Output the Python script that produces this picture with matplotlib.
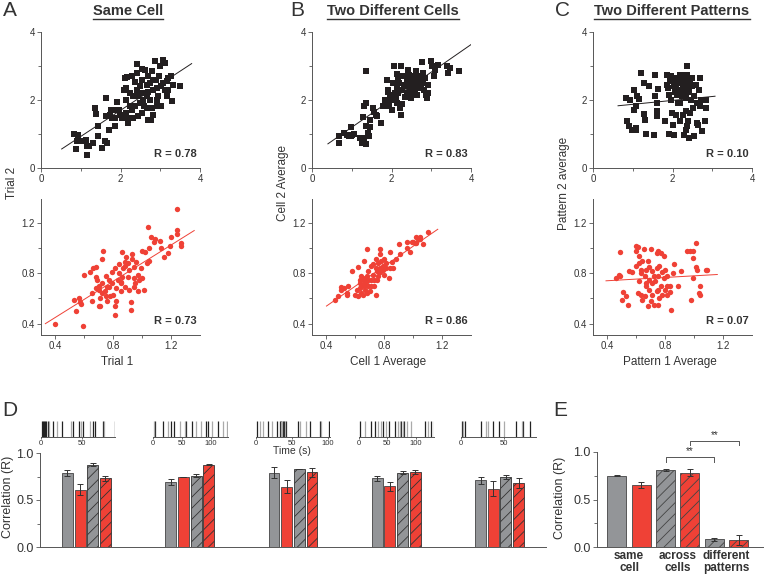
import numpy as np
import matplotlib
matplotlib.use('Agg')
import matplotlib.pyplot as plt
from matplotlib.lines import Line2D
from matplotlib.transforms import blended_transform_factory

plt.rcParams['font.family'] = ['Liberation Sans', 'DejaVu Sans']
plt.rcParams['hatch.linewidth'] = 0.6

# ---------------- data ----------------
# A: same cell
A_top_x = [0.83,0.92,0.90,1.00,0.88,1.13,1.16,1.20,1.16,1.32,
           1.44,1.36,1.38,1.43,1.53,1.61,1.65,1.64,1.64,1.72,
           1.74,1.75,1.78,1.86,1.86,1.92,1.95,2.03,2.11,2.17,
           2.14,2.09,2.20,2.15,2.24,2.28,2.32,2.20,2.36,2.41,
           2.42,2.45,2.49,2.53,2.55,2.57,2.59,2.62,2.66,2.70,
           2.70,2.74,2.78,2.78,2.81,2.76,2.87,2.89,2.91,2.95,
           2.99,3.02,3.06,3.08,3.12,3.12,3.16,3.20,3.26,3.29,
           3.31,3.50,3.16,2.83,2.66,2.49,2.32,2.28,2.41,2.57,
           2.74,2.91,2.97,2.83,3.03,3.20,2.36,2.15,2.24,2.53,
           2.45,2.66,2.70,2.91,1.90,1.99]
A_top_y = [1.00,0.98,0.78,0.78,0.57,0.83,0.66,0.64,0.39,0.75,
           0.93,1.76,1.59,1.23,0.59,0.80,0.74,2.06,1.52,1.13,
           1.57,1.72,1.47,1.23,1.47,1.93,1.72,1.47,2.64,2.68,
           2.35,2.28,1.47,1.62,1.81,1.72,1.47,1.32,2.52,2.30,
           3.07,2.11,1.91,2.91,2.60,2.20,1.81,2.89,2.45,2.70,
           2.25,2.00,2.84,1.76,1.57,1.42,3.14,2.60,2.35,2.11,
           2.99,1.81,3.17,2.50,3.09,2.30,2.11,2.65,2.72,1.96,
           2.45,2.42,2.55,2.30,2.11,2.40,2.11,2.70,2.79,2.00,
           2.50,2.00,2.70,2.60,2.40,2.30,1.81,2.01,2.20,1.62,
           1.52,1.76,1.42,1.81,1.72,1.57]
A_bot_x = [0.40,0.59,0.54,0.53,0.56,0.57,0.58,0.60,0.65,0.65,
           0.64,0.66,0.68,0.68,0.69,0.70,0.70,0.70,0.71,0.72,
           0.73,0.72,0.74,0.75,0.75,0.76,0.77,0.77,0.79,0.80,
           0.81,0.81,0.81,0.82,0.83,0.84,0.84,0.85,0.85,0.86,
           0.86,0.87,0.88,0.88,0.89,0.90,0.90,0.91,0.91,0.92,
           0.92,0.93,0.93,0.94,0.94,0.95,0.96,0.97,0.97,0.98,
           0.99,1.00,1.00,1.01,1.02,1.03,1.04,1.05,1.05,1.06,
           1.08,1.09,1.12,1.13,1.15,1.18,1.19,1.20,1.24,1.24,
           1.24,1.27,1.27,0.82,0.76,0.72,0.78,0.88,0.85,0.94,
           0.68,0.71,0.79]
A_bot_y = [0.40,0.38,0.50,0.59,0.60,0.57,0.56,0.79,0.64,0.58,
           0.81,0.84,0.85,0.77,0.75,0.70,0.67,0.54,0.54,0.91,
           0.98,0.72,0.66,0.78,0.62,0.58,0.69,0.75,0.81,0.63,
           0.84,0.54,0.47,0.68,0.75,0.80,0.87,0.66,0.72,0.97,
           0.77,0.84,0.89,0.86,0.93,0.88,0.77,0.83,0.67,0.57,
           0.51,0.91,0.95,0.85,0.76,0.72,0.89,0.79,0.66,0.75,
           0.84,0.76,0.98,0.67,0.97,0.88,1.17,1.00,0.90,1.09,
           1.05,1.07,1.06,1.00,0.93,0.96,1.02,1.09,1.14,1.11,
           1.31,1.04,1.02,0.58,0.69,0.64,0.62,0.69,0.73,0.69,
           0.68,0.60,0.72]

# B: two different cells
B_top_x = [0.69,0.69,0.80,0.88,0.93,0.99,1.01,1.05,0.97,1.22,
           1.26,1.30,1.35,1.35,1.35,1.29,1.30,1.37,1.41,1.43,
           1.47,1.46,1.54,1.57,1.60,1.64,1.73,1.79,1.83,1.85,
           1.88,1.90,1.91,1.94,1.96,1.98,2.02,2.04,2.06,2.08,
           2.11,2.13,2.15,2.16,2.19,2.21,2.23,2.25,2.27,2.27,
           2.29,2.33,2.36,2.38,2.40,2.42,2.44,2.47,2.48,2.51,
           2.53,2.55,2.57,2.58,2.61,2.64,2.65,2.68,2.69,2.72,
           2.74,2.76,2.78,2.80,2.82,2.84,2.86,2.89,2.91,2.92,
           2.99,3.03,3.06,3.09,3.16,3.39,3.41,3.48,3.71,2.50,
           2.31,2.16,2.02,2.13]
B_top_y = [0.75,0.93,1.03,0.98,0.93,1.20,0.98,1.01,0.93,0.88,
           0.74,0.88,0.72,1.23,2.84,1.50,1.81,1.91,1.03,0.93,
           1.20,1.42,1.76,1.64,1.57,1.52,1.32,1.83,2.00,1.83,
           2.60,2.23,2.30,1.81,2.10,2.00,1.72,2.50,2.99,2.20,
           2.05,2.35,2.77,2.60,2.50,1.76,1.57,2.99,1.89,2.30,
           2.70,2.10,2.40,2.20,2.55,2.89,2.75,2.35,2.50,2.20,
           2.60,2.45,2.70,2.30,2.84,2.55,2.16,2.40,2.72,2.60,
           2.35,3.11,2.50,2.79,2.30,2.65,2.16,2.06,2.45,2.20,
           3.14,2.99,2.70,2.89,3.04,3.01,2.79,2.94,2.84,2.06,
           2.45,2.20,2.16,1.91]
B_bot_x = [0.46,0.48,0.50,0.50,0.52,0.54,0.54,0.55,0.58,0.60,
           0.61,0.62,0.62,0.63,0.63,0.64,0.64,0.65,0.65,0.66,
           0.67,0.67,0.68,0.68,0.68,0.69,0.69,0.70,0.71,0.71,
           0.72,0.72,0.73,0.74,0.74,0.74,0.75,0.76,0.76,0.77,
           0.77,0.77,0.78,0.79,0.79,0.80,0.81,0.81,0.83,0.84,
           0.84,0.85,0.86,0.88,0.90,0.91,0.96,0.96,0.98,0.99,
           1.00,1.01,1.02,1.02,1.03,1.05,1.05,1.07,1.10,0.66,
           0.64,0.69,0.66,0.63,0.71,0.73,0.68,0.75,0.77,0.80]
B_bot_y = [0.585,0.62,0.69,0.67,0.68,0.64,0.63,0.70,0.82,0.63,
           0.67,0.62,0.85,0.72,0.75,0.64,0.70,0.76,0.63,0.90,
           0.72,0.67,0.78,0.99,0.71,0.82,0.75,0.66,0.86,0.70,
           0.79,0.87,0.75,0.84,0.63,0.91,0.82,0.88,0.78,0.84,
           0.95,0.99,0.90,0.83,0.86,0.91,0.84,0.88,0.76,0.84,
           0.97,0.89,0.84,0.91,1.03,0.95,1.00,1.05,0.97,1.05,
           1.05,1.04,1.09,1.04,1.07,1.09,1.07,1.03,1.13,0.75,
           0.78,0.70,0.70,0.68,0.75,0.70,0.64,0.75,0.81,0.79]

# C: two different patterns
C_top_x = [0.86,0.90,0.84,0.94,0.98,1.03,1.07,1.09,1.04,1.09,
           1.11,1.15,1.21,1.28,1.29,1.32,1.34,1.40,1.53,1.55,
           1.57,1.60,1.61,1.61,1.63,1.82,1.85,1.87,1.88,1.91,
           1.91,1.93,1.95,1.97,1.99,1.99,2.02,2.03,2.05,2.07,
           2.08,2.10,2.12,2.13,2.16,2.18,2.20,2.20,2.22,2.24,
           2.24,2.27,2.27,2.29,2.30,2.33,2.33,2.35,2.37,2.35,
           2.37,2.39,2.39,2.41,2.41,2.44,2.45,2.47,2.50,2.52,
           2.54,2.55,2.58,2.61,2.62,2.64,2.66,2.68,2.69,2.71,
           2.75,2.83,2.85,2.85,2.50,2.24,2.12,2.37,2.10,2.33,
           2.18]
C_top_y = [1.37,1.23,2.06,1.99,1.13,2.30,1.13,1.18,1.72,1.83,
           2.11,2.04,2.79,1.60,2.50,1.42,1.01,2.42,0.98,2.11,
           2.75,1.54,1.67,1.91,2.33,1.37,2.75,2.45,2.35,1.01,
           2.16,2.55,2.72,2.00,2.62,1.62,1.27,2.42,0.98,2.25,
           2.60,2.38,2.16,1.91,2.50,2.75,2.30,1.37,2.70,2.11,
           2.75,1.57,2.45,0.98,2.20,1.13,2.68,2.35,2.99,2.06,
           1.23,1.37,2.50,0.88,2.25,1.62,2.55,2.01,2.40,1.76,
           0.93,2.11,2.45,1.32,1.91,1.27,2.30,1.83,2.65,2.01,
           1.08,1.37,1.76,2.01,2.65,2.55,2.65,2.75,1.57,1.67,
           1.91]
C_bot_x = [0.46,0.48,0.49,0.49,0.50,0.51,0.53,0.54,0.55,0.57,
           0.60,0.60,0.61,0.62,0.60,0.61,0.62,0.62,0.63,0.63,
           0.63,0.64,0.64,0.65,0.66,0.66,0.67,0.67,0.68,0.68,
           0.69,0.69,0.69,0.70,0.70,0.71,0.71,0.72,0.72,0.73,
           0.74,0.74,0.74,0.75,0.75,0.75,0.76,0.76,0.77,0.77,
           0.78,0.78,0.79,0.79,0.80,0.80,0.81,0.81,0.83,0.83,
           0.84,0.85,0.86,0.89,0.91,0.95,0.97,0.99,0.99,0.98,
           0.99,1.01,1.01,1.02,1.03,1.04,1.04,1.08,1.09,0.81,
           0.71,0.75,0.67]
C_bot_y = [0.76,0.79,0.78,0.97,0.59,0.65,0.62,0.55,0.82,0.81,
           1.02,0.98,1.01,0.94,0.86,0.64,0.74,0.88,0.83,0.80,
           0.63,0.90,0.59,0.99,0.78,0.62,0.83,0.72,0.54,0.90,
           0.67,0.85,0.75,0.99,0.58,0.82,0.63,0.78,0.55,0.74,
           0.96,0.84,0.66,0.98,0.55,0.78,0.60,0.86,0.96,0.70,
           0.63,0.81,0.94,0.76,0.83,0.67,0.70,0.63,0.70,0.65,
           0.51,0.80,0.87,0.70,0.82,0.98,0.98,0.98,0.92,0.59,
           0.76,1.04,0.85,0.83,0.64,0.70,0.63,0.83,0.83,0.78,
           0.72,0.67,0.70]

# regression lines: slope, intercept, x start, x end
A_top_fit = (0.768, 0.16, 0.52, 3.79)
A_bot_fit = (0.718, 0.163, 0.33, 1.36)
B_top_fit = (0.811, 0.386, 0.40, 4.0)
B_bot_fit = (0.792, 0.223, 0.40, 1.17)
C_top_fit = (0.115, 1.758, 0.63, 3.07)
C_bot_fit = (0.065, 0.715, 0.39, 1.16)
R_top = ['R = 0.78', 'R = 0.83', 'R = 0.10']
R_bot = ['R = 0.73', 'R = 0.86', 'R = 0.07']
titles = ['Same Cell', 'Two Different Cells', 'Two Different Patterns']
xlabels = ['Trial 1', 'Cell 1 Average', 'Pattern 1 Average']
ylabels = ['Trial 2', 'Cell 2 Average', 'Pattern 2 average']

# D: spike rasters (s) and per-example correlations
raster_dark = [[1, 2, 3.5, 5, 6.5, 8, 14, 26, 39, 46, 51, 63, 66, 75, 90],
               [3, 17, 32, 36, 57, 68, 92, 95, 112],
               [1, 17, 29, 33, 35, 37, 39, 42, 59, 75, 89, 101],
               [1, 21, 29, 43, 52, 64, 74, 80, 117, 126],
               [1.3, 4.2, 23, 37.5, 44, 64, 73, 81]]
raster_light = [[10, 19, 37, 49, 60, 77],
                [1, 26, 46, 55, 75, 83, 103, 121, 128],
                [6, 10, 22, 34.5, 36, 41, 61, 70, 91],
                [11, 33, 39, 48, 68, 72, 78, 84, 92, 121, 132],
                [2.9, 29, 32, 50, 71, 92]]
raster_end = [90, 130, 103, 132, 88]
raster_ticks = [[0, 50], [0, 50, 100], [0, 50, 100], [0, 50, 100], [0, 50]]

D_gray = [0.79, 0.69, 0.79, 0.73, 0.71]
D_gray_err = [0.03, 0.03, 0.06, 0.03, 0.035]
D_red = [0.61, 0.745, 0.64, 0.645, 0.62]
D_red_err = [0.06, 0.005, 0.07, 0.05, 0.08]
D_gray_h = [0.875, 0.76, 0.83, 0.79, 0.745]
D_gray_h_err = [0.015, 0.012, 0.005, 0.018, 0.02]
D_red_h = [0.73, 0.875, 0.795, 0.80, 0.68]
D_red_h_err = [0.025, 0.005, 0.05, 0.02, 0.05]

# E: summary
E_vals = [0.752, 0.654, 0.812, 0.784, 0.082, 0.071]
E_err = [0.008, 0.03, 0.012, 0.035, 0.017, 0.053]
E_labels = ['same\ncell', 'across\ncells', 'different\npatterns']

# ---------------- drawing ----------------
W, H = 764, 576
fig = plt.figure(figsize=(W / 100, H / 100), dpi=100)

BLACK = '#231f20'
RED = '#ef4136'
GRAY = '#939598'
AXC = '#555555'


def px_axes(l, t, r, b):
    return fig.add_axes([l / W, 1 - b / H, (r - l) / W, (b - t) / H])


def clean(ax, labelsize=7):
    for s in ['top', 'right']:
        ax.spines[s].set_visible(False)
    for s in ['left', 'bottom']:
        ax.spines[s].set_color(AXC)
        ax.spines[s].set_linewidth(0.7)
    ax.tick_params(which='both', direction='out', colors=AXC, labelcolor='#333333',
                   labelsize=labelsize, width=0.6, length=3, pad=1.5)
    ax.tick_params(which='minor', length=2)


def scatter_panel(ax, xs, ys, fit, rtxt, top):
    if top:
        ax.scatter(xs, ys, marker='s', s=14, color=BLACK, linewidths=0)
        ax.set_xlim(0, 4)
        ax.set_ylim(0, 4)
        ax.set_xticks([0, 2, 4])
        ax.set_yticks([0, 2, 4])
        ax.set_xticks([1, 3], minor=True)
        ax.set_yticks([1, 3], minor=True)
        lc = BLACK
    else:
        ax.scatter(xs, ys, marker='o', s=15, color=RED, linewidths=0)
        ax.set_xlim(0.3, 1.4)
        ax.set_ylim(0.31, 1.39)
        ax.set_xticks([0.4, 0.8, 1.2])
        ax.set_yticks([0.4, 0.8, 1.2])
        ax.set_xticks([0.6, 1.0], minor=True)
        ax.set_yticks([0.6, 1.0], minor=True)
        lc = RED
    slope, icpt, x0, x1 = fit
    fx = np.array([x0, x1])
    ax.plot(fx, slope * fx + icpt, color=lc, lw=0.7)
    clean(ax)
    ax.text(0.98, 0.1, rtxt, transform=ax.transAxes, ha='right', va='center',
            fontsize=8, fontweight='bold', color='#333333')


lefts = [(41, 200), (312, 471), (593, 752)]
top_data = [(A_top_x, A_top_y, A_top_fit), (B_top_x, B_top_y, B_top_fit), (C_top_x, C_top_y, C_top_fit)]
bot_data = [(A_bot_x, A_bot_y, A_bot_fit), (B_bot_x, B_bot_y, B_bot_fit), (C_bot_x, C_bot_y, C_bot_fit)]
title_x = [128, 393, 672]
letter_x = [10, 297, 562]

title_objs = []
for i in range(3):
    l, r = lefts[i]
    axt = px_axes(l, 32, r, 168)
    scatter_panel(axt, *top_data[i], R_top[i], True)
    axb = px_axes(l, 199, r, 335)
    scatter_panel(axb, *bot_data[i], R_bot[i], False)
    fig.text(((l + r) / 2 - 3) / W, 1 - 362 / H, xlabels[i], ha='center', va='center',
             fontsize=8.5, color='#333333')
    fig.text((l - 29) / W, 1 - 183 / H, ylabels[i], ha='center', va='center',
             rotation=90, fontsize=8.5, color='#333333')
    t = fig.text(title_x[i] / W, 1 - 11 / H, titles[i], ha='center', va='center',
                 fontsize=10.5, fontweight='bold', color='#333333')
    title_objs.append(t)
    fig.text(letter_x[i] / W, 1 - 11 / H, 'ABC'[i], ha='center', va='center',
             fontsize=15, color='#333333')

# D panel
fig.text(10 / W, 1 - 410 / H, 'D', ha='center', va='center', fontsize=15, color='#333333')
fig.text(560 / W, 1 - 411 / H, 'E', ha='center', va='center', fontsize=15, color='#333333')

raster_pos = [(41, 115), (153, 228), (256, 330), (359, 434), (461, 536)]
for i, (l, r) in enumerate(raster_pos):
    ax = px_axes(l, 421, r, 437)
    ax.vlines(raster_dark[i], 0, 1, color='#222222', lw=0.9)
    ax.vlines(raster_light[i], 0, 1, color='#aaaaaa', lw=0.9)
    ax.set_xlim(0, raster_end[i])
    ax.set_ylim(0, 1)
    ax.set_yticks([])
    ax.spines['left'].set_visible(False)
    clean(ax, labelsize=5.5)
    ax.set_xticks(raster_ticks[i])
    ax.tick_params(length=1.5, pad=1)
fig.text(292 / W, 1 - 451 / H, 'Time (s)', ha='center', va='center', fontsize=7.5, color='#333333')

axd = px_axes(40, 453, 546, 547)
groups = np.arange(len(D_gray))
bw = 0.106
offs = [-0.184, -0.061, 0.061, 0.184]
ekw = dict(ecolor='#333333', elinewidth=0.7, capsize=2, capthick=0.7)
axd.bar(groups + offs[0], D_gray, bw, yerr=D_gray_err, color=GRAY, edgecolor='#444444', lw=0.6, error_kw=ekw)
axd.bar(groups + offs[1], D_red, bw, yerr=D_red_err, color=RED, edgecolor='#444444', lw=0.6, error_kw=ekw)
axd.bar(groups + offs[2], D_gray_h, bw, yerr=D_gray_h_err, color=GRAY, edgecolor='#333333', lw=0.6,
        hatch='///', error_kw=ekw)
axd.bar(groups + offs[3], D_red_h, bw, yerr=D_red_h_err, color=RED, edgecolor='#333333', lw=0.6,
        hatch='///', error_kw=ekw)
axd.set_xlim(-0.45, 4.45)
axd.set_ylim(0, 1.0)
axd.set_xticks([])
axd.set_yticks([0, 0.5, 1.0])
axd.set_yticklabels(['0.0', '0.5', '1.0'])
axd.set_yticks([0.25, 0.75], minor=True)
clean(axd, labelsize=9)
fig.text(8 / W, 1 - 497 / H, 'Correlation (R)', ha='center', va='center', rotation=90,
         fontsize=9, color='#333333')

# E panel
axe = px_axes(597, 452, 763, 547)
colors_e = [GRAY, RED, GRAY, RED, GRAY, RED]
hatches_e = [None, None, '///', '///', '///', '///']
for i, v in enumerate(E_vals):
    axe.bar(i, v, 0.78, yerr=E_err[i], color=colors_e[i], edgecolor='#444444', lw=0.6,
            hatch=hatches_e[i], error_kw=ekw)
axe.set_xlim(-0.82, 6.0)
axe.set_ylim(0, 1.0)
axe.set_xticks([])
axe.set_yticks([0, 0.5, 1.0])
axe.set_yticklabels(['0.0', '0.5', '1.0'])
axe.set_yticks([0.25, 0.75], minor=True)
clean(axe, labelsize=9)
fig.text(560 / W, 1 - 498 / H, 'Correlation (R)', ha='center', va='center', rotation=90,
         fontsize=9, color='#333333')
tr = blended_transform_factory(axe.transData, axe.transAxes)
for k, lab in enumerate(E_labels):
    axe.text(2 * k + 0.5, -0.03, lab, transform=tr, ha='center', va='top', fontsize=8.5,
             fontweight='bold', color='#333333', linespacing=1.0)
# significance brackets
for (a, b, yb, drop) in [(2, 4, 0.95, 0.06), (3, 5, 1.12, 0.05)]:
    axe.plot([a, a, b, b], [yb - drop, yb, yb, yb - drop], color='#555555', lw=0.7, clip_on=False)
    axe.text((a + b) / 2, yb + 0.01, '**', ha='center', va='bottom', fontsize=7, color='#333333')

# underline titles
fig.canvas.draw()
rend = fig.canvas.get_renderer()
inv = fig.transFigure.inverted()
for t in title_objs:
    bb = t.get_window_extent(rend)
    (x0, y0), (x1, y1) = inv.transform([(bb.x0, bb.y0), (bb.x1, bb.y1)])
    fig.add_artist(Line2D([x0, x1], [y0 - 0.002, y0 - 0.002], transform=fig.transFigure,
                          color='#333333', lw=1.0))

fig.savefig('out.png', dpi=100)
